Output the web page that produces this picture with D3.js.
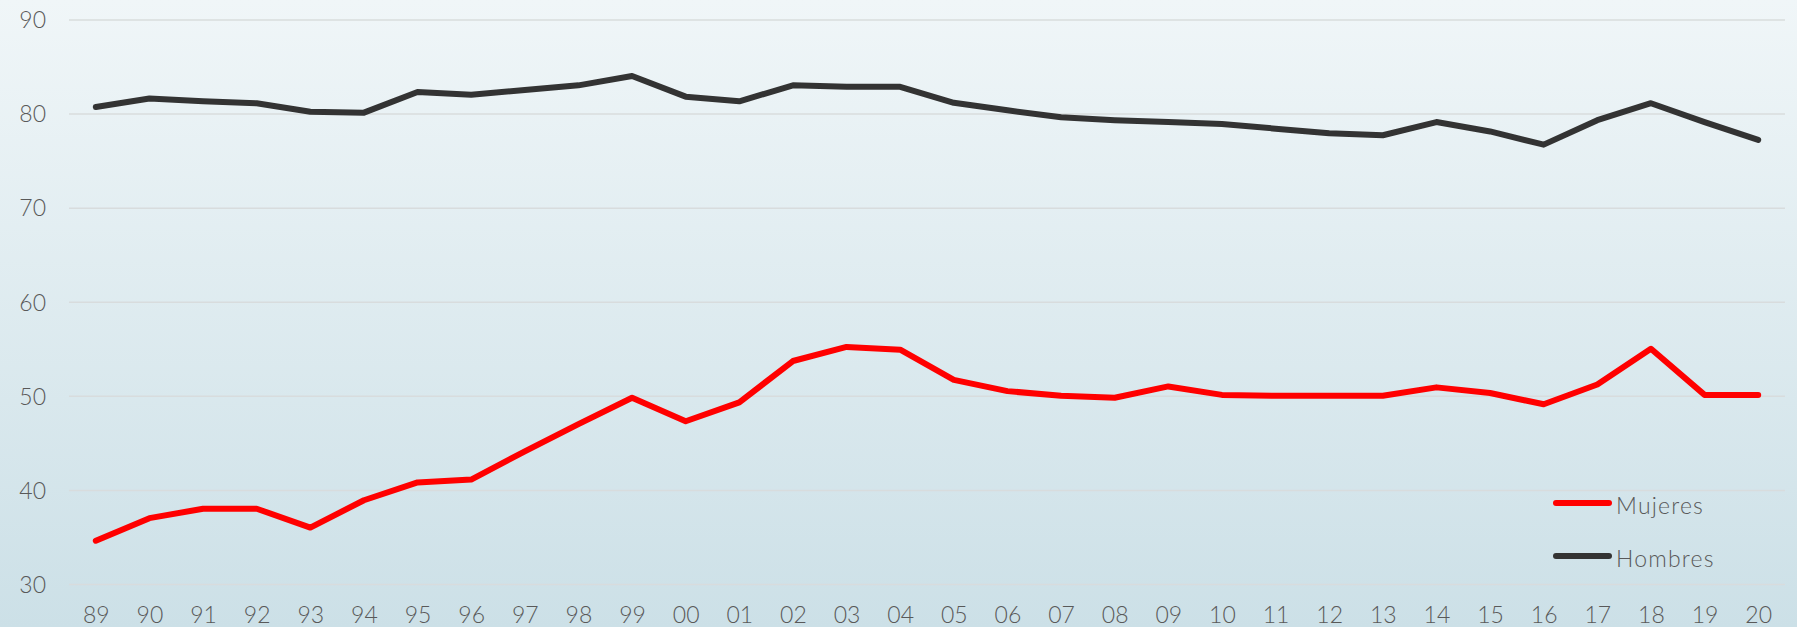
<!DOCTYPE html>
<html>
<head>
<meta charset="utf-8">
<script src="https://cdn.jsdelivr.net/npm/d3@7"></script>
<style>
  html, body { margin: 0; padding: 0; background: #ffffff; }
  svg { display: block; }
  text { font-family: "Lato", "Open Sans", sans-serif; fill: #595959; font-weight: 300; }
</style>
</head>
<body>
<div id="chart"></div>
<script>
const years = ["89","90","91","92","93","94","95","96","97","98","99","00","01","02","03","04","05","06","07","08","09","10","11","12","13","14","15","16","17","18","19","20"];
const mujeres = [34.6, 37.0, 38.0, 38.0, 36.0, 38.9, 40.8, 41.1, 44.1, 47.0, 49.8, 47.3, 49.3, 53.7, 55.2, 54.9, 51.7, 50.5, 50.0, 49.8, 51.0, 50.1, 50.0, 50.0, 50.0, 50.9, 50.3, 49.1, 51.2, 55.0, 50.1, 50.1];
const hombres = [80.7, 81.6, 81.3, 81.1, 80.2, 80.1, 82.3, 82.0, 82.5, 83.0, 84.0, 81.8, 81.3, 83.0, 82.85, 82.85, 81.15, 80.35, 79.6, 79.3, 79.1, 78.9, 78.4, 77.9, 77.7, 79.1, 78.1, 76.7, 79.3, 81.1, 79.1, 77.2];
const yTicks = [30, 40, 50, 60, 70, 80, 90];
const seriesNames = ["Mujeres", "Hombres"];
const seriesColors = ["#ff0000", "#333333"];

const W = 1797, H = 627;
const plotLeft = 69, plotRight = 1785, plotTop = 19.5, plotBottom = 584;

const svg = d3.select("#chart").append("svg")
  .attr("width", W).attr("height", H);

const defs = svg.append("defs");
const grad = defs.append("linearGradient").attr("id", "bg")
  .attr("x1", 0).attr("y1", 0).attr("x2", 0).attr("y2", 1);
grad.append("stop").attr("offset", "0%").attr("stop-color", "#f0f6f8");
grad.append("stop").attr("offset", "100%").attr("stop-color", "#cce0e7");

svg.append("rect").attr("width", W).attr("height", H).attr("fill", "url(#bg)");

const x = d3.scalePoint().domain(years).range([plotLeft, plotRight]).padding(0.5);
const y = d3.scaleLinear().domain([30, 90]).range([plotBottom, plotTop]);

// gridlines
const grid = svg.append("g").attr("transform", `translate(${plotLeft},0)`)
  .call(d3.axisLeft(y).tickValues(yTicks).tickSize(-(plotRight - plotLeft)).tickFormat(""));
grid.select(".domain").remove();
grid.selectAll(".tick line").attr("stroke", "#d8dcdd").attr("stroke-width", 1.5);

// y axis labels
const yAxis = svg.append("g").attr("transform", `translate(46,0)`)
  .call(d3.axisLeft(y).tickValues(yTicks).tickSize(0).tickPadding(0).tickFormat(d3.format("d")));
yAxis.select(".domain").remove();
yAxis.selectAll("text").attr("font-size", 23).attr("fill", "#595959")
  .attr("font-family", "Lato, 'Open Sans', sans-serif").attr("font-weight", 300).attr("dy", "0.36em");

// x axis labels
const xAxis = svg.append("g").attr("transform", `translate(0,${plotBottom})`)
  .call(d3.axisBottom(x).tickSize(0).tickPadding(0));
xAxis.select(".domain").remove();
xAxis.selectAll("text").attr("font-size", 23).attr("fill", "#595959")
  .attr("font-family", "Lato, 'Open Sans', sans-serif").attr("font-weight", 300).attr("dy", null).attr("y", 39);

// lines
const line = d3.line().x((d, i) => x(years[i])).y(d => y(d));
[mujeres, hombres].forEach((s, k) => {
  svg.append("path").datum(s)
    .attr("fill", "none")
    .attr("stroke", seriesColors[k])
    .attr("stroke-width", 6)
    .attr("stroke-linejoin", "round")
    .attr("stroke-linecap", "round")
    .attr("d", line);
});

// legend
const legend = svg.append("g");
const legY = [503, 556];
seriesNames.forEach((name, k) => {
  legend.append("line")
    .attr("x1", 1556).attr("x2", 1609)
    .attr("y1", legY[k]).attr("y2", legY[k])
    .attr("stroke", seriesColors[k]).attr("stroke-width", 6)
    .attr("stroke-linecap", "round");
  legend.append("text")
    .attr("x", 1616).attr("y", legY[k] + 11)
    .attr("font-size", 23).attr("font-weight", 300).attr("letter-spacing", "1.2px")
    .text(name);
});
</script>
</body>
</html>
